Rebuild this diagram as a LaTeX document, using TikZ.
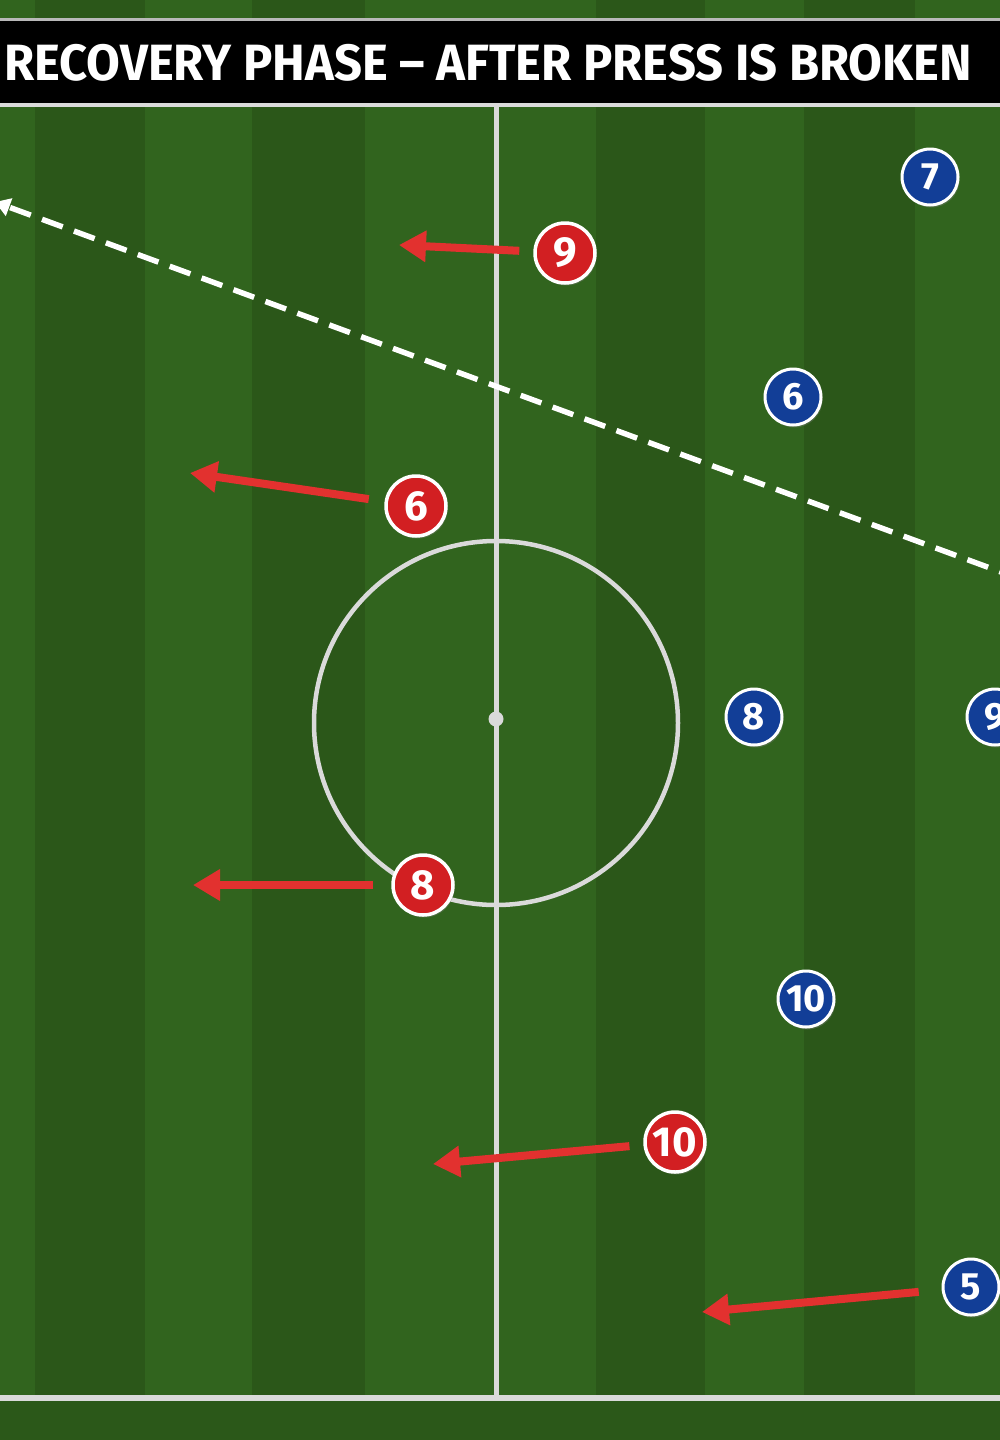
\documentclass[tikz,border=0pt]{standalone}
\usepackage{fontspec}
\setmainfont{Fira Sans}
\usetikzlibrary{arrows.meta,shadows}
\definecolor{grassL}{HTML}{31641E}
\definecolor{grassD}{HTML}{2B5719}
\definecolor{grassB}{HTML}{2B5819}
\definecolor{lineW}{HTML}{DADADA}
\definecolor{redP}{HTML}{D21F22}
\definecolor{blueP}{HTML}{123E97}
\definecolor{runR}{HTML}{E2312F}
\begin{document}
\begin{tikzpicture}[x=1pt,y=-1pt,line join=round,
	pl/.style={circle,draw=white,inner sep=0pt,text=white,drop shadow={opacity=0.35,shadow xshift=1.5pt,shadow yshift=-2.5pt}},
	redpl/.style={pl,fill=redP,line width=3.5pt,minimum size=60pt,font=\bfseries\fontsize{42}{42}\selectfont},
	bluepl/.style={pl,fill=blueP,line width=3pt,minimum size=56pt,font=\bfseries\fontsize{38}{38}\selectfont},
	run/.style={runR,line width=8pt,-{Triangle[length=27pt,width=30pt]}}]
	\useasboundingbox (0,0) rectangle (1000,1440);
	\clip (0,0) rectangle (1000,1440);
	% grass
	\fill[grassL] (0,0) rectangle (1000,1440);
	\foreach \xa/\xb in {35/145,252/365,596/705,804/915}
		\fill[grassD] (\xa,0) rectangle (\xb,1440);
	\fill[grassB] (0,1401) rectangle (1000,1440);
	% lines
	\draw[lineW!85!black,line width=3pt] (0,19.5)--(1000,19.5);
	\fill[black] (0,21) rectangle (1000,103);
	\draw[lineW,line width=3.5pt] (0,105)--(1000,105);
	\draw[lineW,line width=5pt] (496,105)--(496,1395);
	\draw[lineW,line width=6pt] (0,1397.5)--(1000,1397.5);
	\draw[lineW,line width=4.5pt] (496,723) circle (182);
	\fill[lineW] (496,719) circle (7.5);
	\node[text=white,font=\bfseries\fontsize{51}{51}\selectfont,xscale=0.96] (title) at (488,63) {RECOVERY PHASE – AFTER PRESS IS BROKEN};
	% pressing line
	\coordinate (dR) at (1020,579); \coordinate (dL) at (-5,202);
	\draw[white,line width=5.5pt,dash pattern=on 22pt off 12pt,-{Triangle[length=15pt,width=18pt]}] (dR)--(dL);
	% players
	\node[redpl] (r9) at (565,253) {9};
	\node[redpl] (r6) at (416,506) {6};
	\node[redpl] (r8) at (423,885) {8};
	\node[redpl] (r10) at (675,1142) {10};
	\node[bluepl] (b7) at (930,177) {7};
	\node[bluepl] (b6) at (793,397) {6};
	\node[bluepl] (b8) at (754,717) {8};
	\node[bluepl] (b9) at (995,717) {9};
	\node[bluepl] (b10) at (806,999) {10};
	\node[bluepl] (b5) at (971,1287) {5};
	% runs
	\coordinate (r9e) at (399,245); \coordinate (r6e) at (190,473);
	\coordinate (r8e) at (193,885); \coordinate (r10e) at (433,1164);
	\coordinate (b5e) at (702,1312);
	\draw[run,shorten <=14pt] (r9)--(r9e);
	\draw[run,shorten <=16pt] (r6)--(r6e);
	\draw[run,shorten <=18pt] (r8)--(r8e);
	\draw[run,shorten <=14pt] (r10)--(r10e);
	\draw[run,shorten <=23pt] (b5)--(b5e);
\end{tikzpicture}
\end{document}
